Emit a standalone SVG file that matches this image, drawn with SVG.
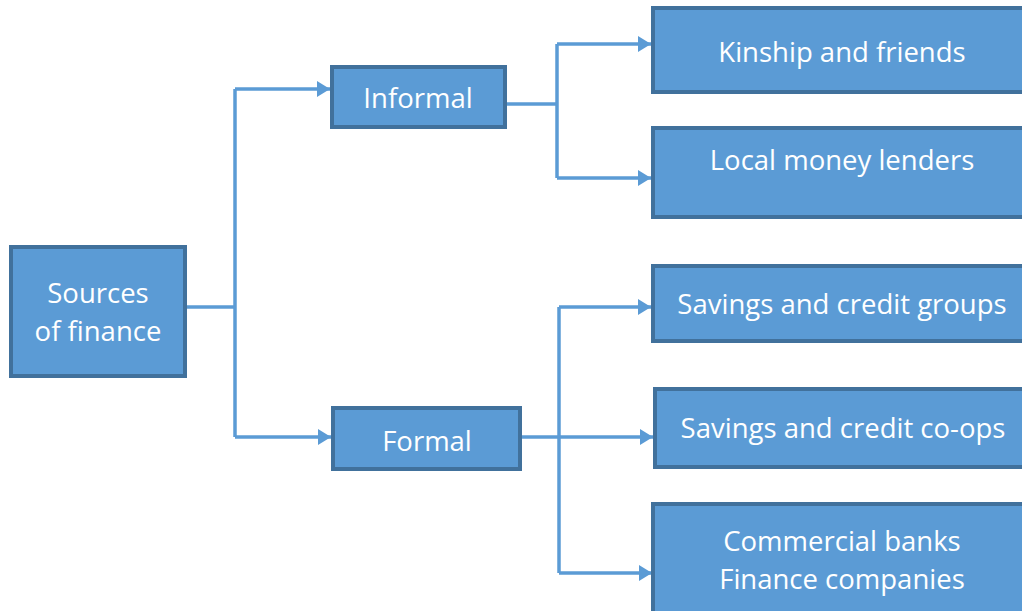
<svg xmlns="http://www.w3.org/2000/svg" width="1022" height="611" viewBox="0 0 1022 611">
  <style>
    .box { fill: #5B9BD5; stroke: #41719C; stroke-width: 4; }
    .lbl { fill: #FFFFFF; font-family: "Open Sans", "Liberation Sans", sans-serif; font-size: 27.5px; text-anchor: middle; }
    .wire { fill: none; stroke: #5B9BD5; stroke-width: 3.5; }
  </style>
  <defs>
    <marker id="arrow" markerUnits="userSpaceOnUse" markerWidth="16" markerHeight="18" refX="13" refY="8" orient="auto">
      <path d="M0,0 L13,8 L0,16 Z" fill="#5B9BD5"/>
    </marker>
  </defs>
  <rect width="1022" height="611" fill="#FFFFFF"/>

  <g id="connectors">
    <!-- root to branches -->
    <path class="wire" d="M186,307 H235"/>
    <path class="wire" d="M235,89 V437"/>
    <path class="wire" d="M235,89 H330" marker-end="url(#arrow)"/>
    <path class="wire" d="M235,437 H331" marker-end="url(#arrow)"/>
    <!-- informal branch -->
    <path class="wire" d="M505,104 H557"/>
    <path class="wire" d="M557,44 V178"/>
    <path class="wire" d="M557,44 H651" marker-end="url(#arrow)"/>
    <path class="wire" d="M557,178 H651" marker-end="url(#arrow)"/>
    <!-- formal branch -->
    <path class="wire" d="M520,437 H653" marker-end="url(#arrow)"/>
    <path class="wire" d="M559,307 V573"/>
    <path class="wire" d="M559,307 H651" marker-end="url(#arrow)"/>
    <path class="wire" d="M559,573 H652" marker-end="url(#arrow)"/>
  </g>

  <g id="sources">
    <rect class="box" x="11" y="247" width="174" height="129"/>
    <text class="lbl" x="98" y="303">Sources</text>
    <text class="lbl" x="98" y="341">of finance</text>
  </g>
  <g id="informal">
    <rect class="box" x="332" y="67" width="173" height="60"/>
    <text class="lbl" x="418" y="108">Informal</text>
  </g>
  <g id="formal">
    <rect class="box" x="333" y="408" width="187" height="61"/>
    <text class="lbl" x="427" y="451">Formal</text>
  </g>
  <g id="kinship">
    <rect class="box" x="653" y="8" width="380" height="84"/>
    <text class="lbl" x="842" y="62">Kinship and friends</text>
  </g>
  <g id="lenders">
    <rect class="box" x="653" y="128" width="380" height="89"/>
    <text class="lbl" x="842" y="170">Local money lenders</text>
  </g>
  <g id="groups">
    <rect class="box" x="653" y="266" width="380" height="75"/>
    <text class="lbl" x="842" y="314">Savings and credit groups</text>
  </g>
  <g id="coops">
    <rect class="box" x="655" y="389" width="380" height="78"/>
    <text class="lbl" x="843" y="438">Savings and credit co-ops</text>
  </g>
  <g id="banks">
    <rect class="box" x="653" y="504" width="380" height="120"/>
    <text class="lbl" x="842" y="551">Commercial banks</text>
    <text class="lbl" x="842" y="589">Finance companies</text>
  </g>
</svg>
